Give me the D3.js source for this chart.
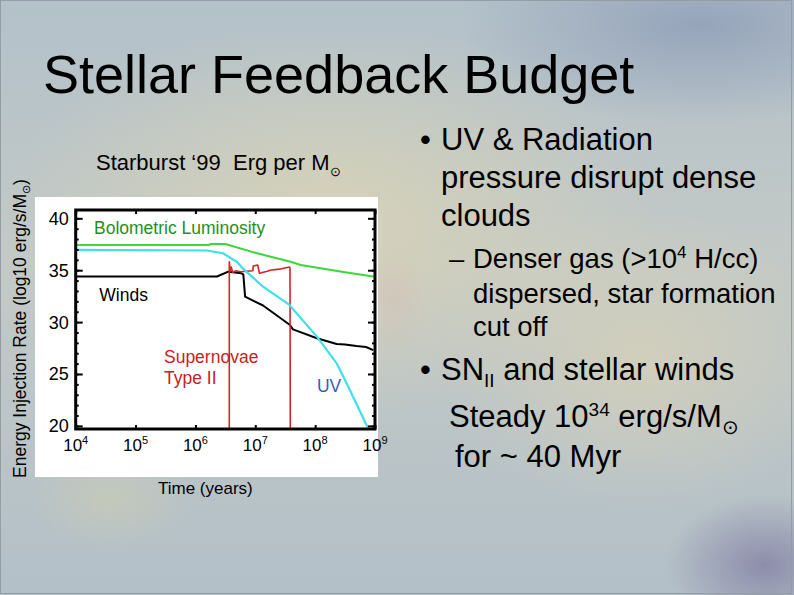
<!DOCTYPE html>
<html>
<head>
<meta charset="utf-8">
<script src="https://cdn.jsdelivr.net/npm/d3@7"></script>
<style>
  html, body { margin: 0; padding: 0; background: #bac6cc; }
  svg { display: block; font-family: "Liberation Sans", Arial, Helvetica, sans-serif; }
</style>
</head>
<body>
<svg id="slide" width="794" height="595"></svg>
<script>
// Starburst99 energy injection per solar mass.
// Time is kept as log10(years); rate is log10 erg/s/Msun.
var xTickExponents = [4, 5, 6, 7, 8, 9];
var yMajorTicks = [20, 25, 30, 35, 40];
var yMinorTicks = [20, 21, 22, 23, 24, 25, 26, 27, 28, 29, 30,
                   31, 32, 33, 34, 35, 36, 37, 38, 39, 40];

var bolLogT = [4.0, 6.22, 6.26, 6.5, 7.03, 7.59, 7.76, 8.04, 8.5, 9.0];
var bolRate = [37.43, 37.43, 37.52, 37.52, 36.63, 35.82, 35.5, 35.24, 34.8, 34.37];

var uvLogT = [4.0, 6.19, 6.46, 6.69, 6.79, 7.13, 7.57, 8.03, 8.36, 8.58, 8.89];
var uvRate = [36.95, 36.9, 36.63, 35.82, 35.18, 33.41, 31.65, 28.6, 26.03, 23.46, 19.7];

var windLogT = [4.0, 6.36, 6.55, 6.77, 6.80, 6.83, 7.13, 7.58, 7.63, 8.03, 8.36, 8.5, 8.69, 8.85, 8.97];
var windRate = [34.39, 34.39, 34.86, 34.7, 34.6, 32.45, 31.6, 29.72, 29.3, 28.44, 27.89, 27.85, 27.7, 27.6, 27.3];

var snLogT = [6.566, 6.566, 6.58, 6.60, 6.62, 6.68, 6.75, 6.86, 6.96, 6.965, 7.04, 7.07, 7.2, 7.25, 7.4, 7.57, 7.58, 7.585];
var snRate = [19.7, 35.8, 34.9, 35.3, 34.8, 34.95, 34.85, 34.9, 34.95, 35.4, 35.5, 34.7, 34.9, 35.0, 35.1, 35.3, 35.2, 19.7];

var curveNames = ['Winds', 'Supernovae', 'Bolometric', 'UV'];
var curveLogT = [windLogT, snLogT, bolLogT, uvLogT];
var curveRate = [windRate, snRate, bolRate, uvRate];
var curveColor = ['#000000', '#d42424', '#3ad83a', '#3ee0ea'];
var curveWidth = [2, 1.6, 2, 2.2];

// in-plot labels, anchored in data coordinates
var labelText = ['Bolometric Luminosity', 'Winds', 'Supernovae', 'Type II', 'UV'];
var labelLogT = [4.306, 4.394, 5.475, 5.475, 8.03];
var labelRate = [38.49, 32.06, 26.03, 24.04, 23.24];
var labelColor = ['#1f8f1f', '#000000', '#c62222', '#c62222', '#3a5cb0'];

(function () {
  var svg = d3.select('#slide');
  var defs = svg.append('defs');

  // ---- slide background: cool grey with a few soft warm/blue glows
  function glow(id, color, opacity) {
    var g = defs.append('radialGradient').attr('id', id);
    g.append('stop').attr('offset', '0%').attr('stop-color', color).attr('stop-opacity', opacity);
    g.append('stop').attr('offset', '100%').attr('stop-color', color).attr('stop-opacity', 0);
  }
  var base = defs.append('linearGradient').attr('id', 'bg')
    .attr('x1', 0).attr('y1', 0).attr('x2', 0).attr('y2', 1);
  base.append('stop').attr('offset', '0%').attr('stop-color', '#b3c1ca');
  base.append('stop').attr('offset', '45%').attr('stop-color', '#c3c9c6');
  base.append('stop').attr('offset', '100%').attr('stop-color', '#b3c0c8');
  glow('warm', '#dad4b6', 0.85);
  glow('warm2', '#d8d2b8', 0.75);
  glow('blue', '#92a1b9', 0.9);
  glow('purple', '#8684a6', 0.85);
  glow('yellow', '#d4d0ac', 0.45);
  glow('pink', '#d6bcb6', 0.4);

  svg.append('rect').attr('width', 794).attr('height', 595).attr('fill', 'url(#bg)');
  svg.append('ellipse').attr('cx', 330).attr('cy', 220).attr('rx', 330).attr('ry', 200).attr('fill', 'url(#warm)');
  svg.append('ellipse').attr('cx', 640).attr('cy', 360).attr('rx', 200).attr('ry', 150).attr('fill', 'url(#warm2)');
  svg.append('ellipse').attr('cx', 700).attr('cy', 25).attr('rx', 240).attr('ry', 100).attr('fill', 'url(#blue)');
  svg.append('ellipse').attr('cx', 765).attr('cy', 565).attr('rx', 100).attr('ry', 70).attr('fill', 'url(#purple)');
  svg.append('ellipse').attr('cx', 110).attr('cy', 500).attr('rx', 80).attr('ry', 50).attr('fill', 'url(#yellow)');
  svg.append('ellipse').attr('cx', 395).attr('cy', 300).attr('rx', 35).attr('ry', 55).attr('fill', 'url(#pink)');
  svg.append('rect').attr('x', 0.5).attr('y', 0.5).attr('width', 791).attr('height', 593)
    .attr('fill', 'none').attr('stroke', '#939da3').attr('stroke-width', 1);

  // ---- title
  svg.append('text').attr('x', 43).attr('y', 93)
    .attr('font-size', 54).attr('fill', '#000').text('Stellar Feedback Budget');

  // ---- chart heading
  var head = svg.append('text').attr('x', 96).attr('y', 170)
    .attr('font-size', 22).attr('fill', '#000').style('white-space', 'pre');
  head.append('tspan').text('Starburst \u201899  Erg per M');
  head.append('tspan').attr('font-size', 13).attr('dy', 6).text('\u2299');

  // ---- white plot panel
  svg.append('rect').attr('x', 35).attr('y', 197).attr('width', 343).attr('height', 280).attr('fill', '#fff');

  var left = 75.7, right = 375, top = 210, bottom = 429;
  var x = d3.scaleLog().domain([1e4, 1e9]).range([left, right]);
  var y = d3.scaleLinear().domain([19.7, 40.8]).range([bottom, top]);
  var tickYears = xTickExponents.map(function (e) { return Math.pow(10, e); });

  var plot = svg.append('g');
  var line = d3.line()
    .x(function (d) { return x(Math.pow(10, d[0])); })
    .y(function (d) { return y(d[1]); });

  plot.append('clipPath').attr('id', 'frameClip').append('rect')
    .attr('x', left).attr('y', top).attr('width', right - left).attr('height', bottom - top);

  var curves = plot.append('g').attr('clip-path', 'url(#frameClip)');
  curveNames.forEach(function (name, i) {
    var pts = d3.zip(curveLogT[i], curveRate[i]);
    curves.append('path').attr('class', 'curve ' + name)
      .attr('d', line(pts))
      .attr('fill', 'none')
      .attr('stroke', curveColor[i])
      .attr('stroke-width', curveWidth[i])
      .attr('stroke-linejoin', 'round');
  });

  // ---- axes: inward ticks on all four sides, IDL style
  function styleAxis(g) {
    g.select('.domain').remove();
    g.selectAll('.tick line').attr('stroke', '#000').attr('stroke-width', 2);
    g.selectAll('.tick text').remove();
  }
  plot.append('g').attr('transform', 'translate(0,' + bottom + ')')
    .call(d3.axisBottom(x).tickValues(tickYears).tickSize(-4)).call(styleAxis);
  plot.append('g').attr('transform', 'translate(0,' + top + ')')
    .call(d3.axisTop(x).tickValues(tickYears).tickSize(-4)).call(styleAxis);
  plot.append('g').attr('transform', 'translate(' + left + ',0)')
    .call(d3.axisLeft(y).tickValues(yMinorTicks).tickSize(-3)).call(styleAxis);
  plot.append('g').attr('transform', 'translate(' + left + ',0)')
    .call(d3.axisLeft(y).tickValues(yMajorTicks).tickSize(-7)).call(styleAxis);
  plot.append('g').attr('transform', 'translate(' + right + ',0)')
    .call(d3.axisRight(y).tickValues(yMinorTicks).tickSize(-3)).call(styleAxis);
  plot.append('g').attr('transform', 'translate(' + right + ',0)')
    .call(d3.axisRight(y).tickValues(yMajorTicks).tickSize(-7)).call(styleAxis);

  plot.append('rect').attr('x', left).attr('y', top)
    .attr('width', right - left).attr('height', bottom - top)
    .attr('fill', 'none').attr('stroke', '#000').attr('stroke-width', 3);

  // tick labels
  plot.selectAll('text.ylab').data(yMajorTicks).enter().append('text')
    .attr('class', 'ylab')
    .attr('x', left - 7).attr('y', function (d) { return y(d); })
    .attr('dy', '0.36em').attr('text-anchor', 'end')
    .attr('font-size', 18).text(function (d) { return d; });

  var xl = plot.selectAll('text.xlab').data(xTickExponents).enter().append('text')
    .attr('class', 'xlab')
    .attr('x', function (d) { return x(Math.pow(10, d)); }).attr('y', 451)
    .attr('text-anchor', 'middle').attr('font-size', 17);
  xl.append('tspan').text('10');
  xl.append('tspan').attr('font-size', 11).attr('dy', -7).text(function (d) { return d; });

  // curve labels
  labelText.forEach(function (t, i) {
    plot.append('text')
      .attr('x', x(Math.pow(10, labelLogT[i])))
      .attr('y', y(labelRate[i]))
      .attr('font-size', 17.5).attr('fill', labelColor[i]).text(t);
  });

  // axis titles
  svg.append('text').attr('x', 158).attr('y', 494)
    .attr('font-size', 17).attr('fill', '#000').text('Time (years)');

  var yt = svg.append('text').attr('transform', 'translate(26,478) rotate(-90)')
    .attr('font-size', 17.5).attr('fill', '#000');
  yt.append('tspan').text('Energy Injection Rate (log10 erg/s/M');
  yt.append('tspan').attr('font-size', 11).attr('dy', 4).text('\u2299');
  yt.append('tspan').attr('dy', -4).text(')');

  // ---- bullet text on the right
  var big = 31, small = 27.5;
  function row(xPos, yPos, size) {
    return svg.append('text').attr('x', xPos).attr('y', yPos)
      .attr('font-size', size).attr('fill', '#000');
  }
  row(420, 150, big).text('\u2022');
  row(441, 150, big).text('UV & Radiation');
  row(441, 188, big).text('pressure disrupt dense');
  row(441, 226, big).text('clouds');

  row(449, 268, small).text('\u2013');
  var d1 = row(473, 268, small);
  d1.append('tspan').text('Denser gas (>10');
  d1.append('tspan').attr('font-size', 17).attr('dy', -10).text('4');
  d1.append('tspan').attr('dy', 10).text(' H/cc)');
  row(473, 303, small).text('dispersed, star formation');
  row(473, 336, small).text('cut off');

  row(420, 380, big).text('\u2022');
  var b2 = row(441, 380, big);
  b2.append('tspan').text('SN');
  b2.append('tspan').attr('font-size', 19).attr('dy', 7).text('II');
  b2.append('tspan').attr('dy', -7).text(' and stellar winds');

  var b3 = row(449, 427, big).style('white-space', 'pre');
  b3.append('tspan').text('Steady 10');
  b3.append('tspan').attr('font-size', 19).attr('dy', -11).text('34');
  b3.append('tspan').attr('dy', 11).text(' erg/s/M');
  b3.append('tspan').attr('font-size', 20).attr('dy', 7).text('\u2299');

  row(455, 467, big).text('for ~ 40 Myr');
})();
</script>
</body>
</html>
